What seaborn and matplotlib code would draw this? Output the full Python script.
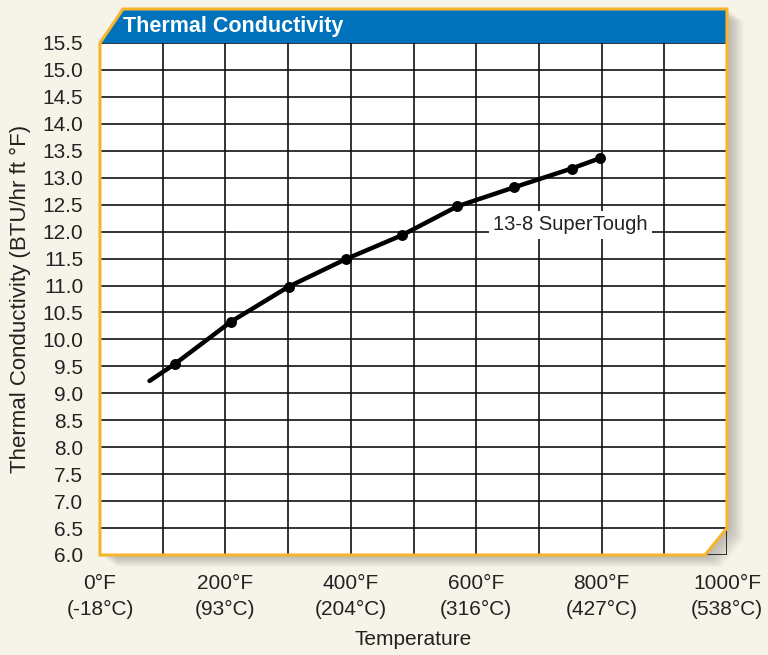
import numpy as np
import pandas as pd
import seaborn as sns
import matplotlib.pyplot as plt
from matplotlib.patches import Polygon
from matplotlib.transforms import ScaledTranslation

# data
temp_f = [79, 120, 209, 301, 392, 481, 570, 660, 752, 797]
conductivity = [9.23, 9.55, 10.33, 10.98, 11.49, 11.93, 12.47, 12.82, 13.17, 13.36]
has_marker = [False, True, True, True, True, True, True, True, True, True]

x_ticks = list(range(0, 1001, 100))
x_labels = ['0°F\n(-18°C)', '', '200°F\n(93°C)', '', '400°F\n(204°C)', '',
            '600°F\n(316°C)', '', '800°F\n(427°C)', '', '1000°F\n(538°C)']
y_ticks = np.arange(6.0, 15.51, 0.5)
series_label = '13-8 SuperTough'
series_label_pos = (750, 12.13)
title = 'Thermal Conductivity'

BG = '#f6f3e8'
BLUE = '#0072bc'
GOLD = '#f7b52c'
TXT = '#222222'

sns.set_theme(style='white')
plt.rcParams['font.family'] = ['Liberation Sans', 'DejaVu Sans']

W, H = 768, 655
left, right, top, bottom = 100, 727, 43, 555
fig = plt.figure(figsize=(W / 100, H / 100), dpi=100, facecolor=BG)
ax = fig.add_axes([left / W, 1 - bottom / H, (right - left) / W, (bottom - top) / H])
ax.set_facecolor('none')

# frame shape in axes coords (chamfered corners, title bar on top)
cx = 23 / 627
cy_top = 1 + 34 / 512
br_x = 1 - 22 / 627
br_y = 27 / 512
frame = [(0, 0), (br_x, 0), (1, br_y), (1, cy_top), (cx, cy_top), (0, 1)]
panel = [(0, 0), (br_x, 0), (1, br_y), (1, 1), (0, 1)]
bar = [(0, 1), (1, 1), (1, cy_top), (cx, cy_top)]

# soft shadow
for k in range(2, 18):
    off = ScaledTranslation(k / 100, -k * 0.7 / 100, fig.dpi_scale_trans)
    ax.add_patch(Polygon(frame, closed=True, transform=ax.transAxes + off,
                         facecolor='#505050', edgecolor='none', alpha=0.022,
                         clip_on=False, zorder=0.05))

ax.add_patch(Polygon(panel, closed=True, transform=ax.transAxes,
                     facecolor='white', edgecolor='none', clip_on=False, zorder=0.1))
ax.add_patch(Polygon(bar, closed=True, transform=ax.transAxes,
                     facecolor=BLUE, edgecolor='none', clip_on=False, zorder=3))
ax.add_patch(Polygon(frame, closed=True, transform=ax.transAxes,
                     facecolor='none', edgecolor=GOLD, lw=2.2, clip_on=False,
                     joinstyle='miter', zorder=4))

df = pd.DataFrame({'temp': temp_f, 'k': conductivity, 'marker': has_marker})
sns.lineplot(data=df, x='temp', y='k', color='black', lw=3.2, ax=ax, zorder=5)
sns.scatterplot(data=df[df['marker']], x='temp', y='k', color='black', s=62,
                edgecolor='black', linewidth=0, ax=ax, zorder=6)

ax.text(*series_label_pos, series_label, ha='center', va='center', fontsize=14.5,
        color=TXT, zorder=4.5,
        bbox=dict(boxstyle='square,pad=0.22', facecolor='white', edgecolor='none'))

ax.text(0.037, 1.033, title, transform=ax.transAxes, color='white',
        fontweight='bold', fontsize=15.5, ha='left', va='center', zorder=5)

ax.set_xlim(0, 1000)
ax.set_ylim(6.0, 15.5)
ax.set_xticks(x_ticks, x_labels)
ax.set_yticks(y_ticks, [f'{v:.1f}' for v in y_ticks])
for lab in ax.get_xticklabels():
    lab.set_linespacing(1.45)
ax.set_axisbelow(True)
ax.grid(True, color='#111111', linewidth=1.2)
for s in ax.spines.values():
    s.set_visible(False)
ax.tick_params(axis='both', length=0, labelsize=15, labelcolor=TXT)
ax.tick_params(axis='y', pad=12)
ax.tick_params(axis='x', pad=14)
ax.set_xlabel('Temperature', fontsize=15, color=TXT, labelpad=8)
ax.set_ylabel('Thermal Conductivity (BTU/hr ft °F)', fontsize=16, color=TXT, labelpad=8)

fig.savefig('out.png', dpi=100, facecolor=BG)
